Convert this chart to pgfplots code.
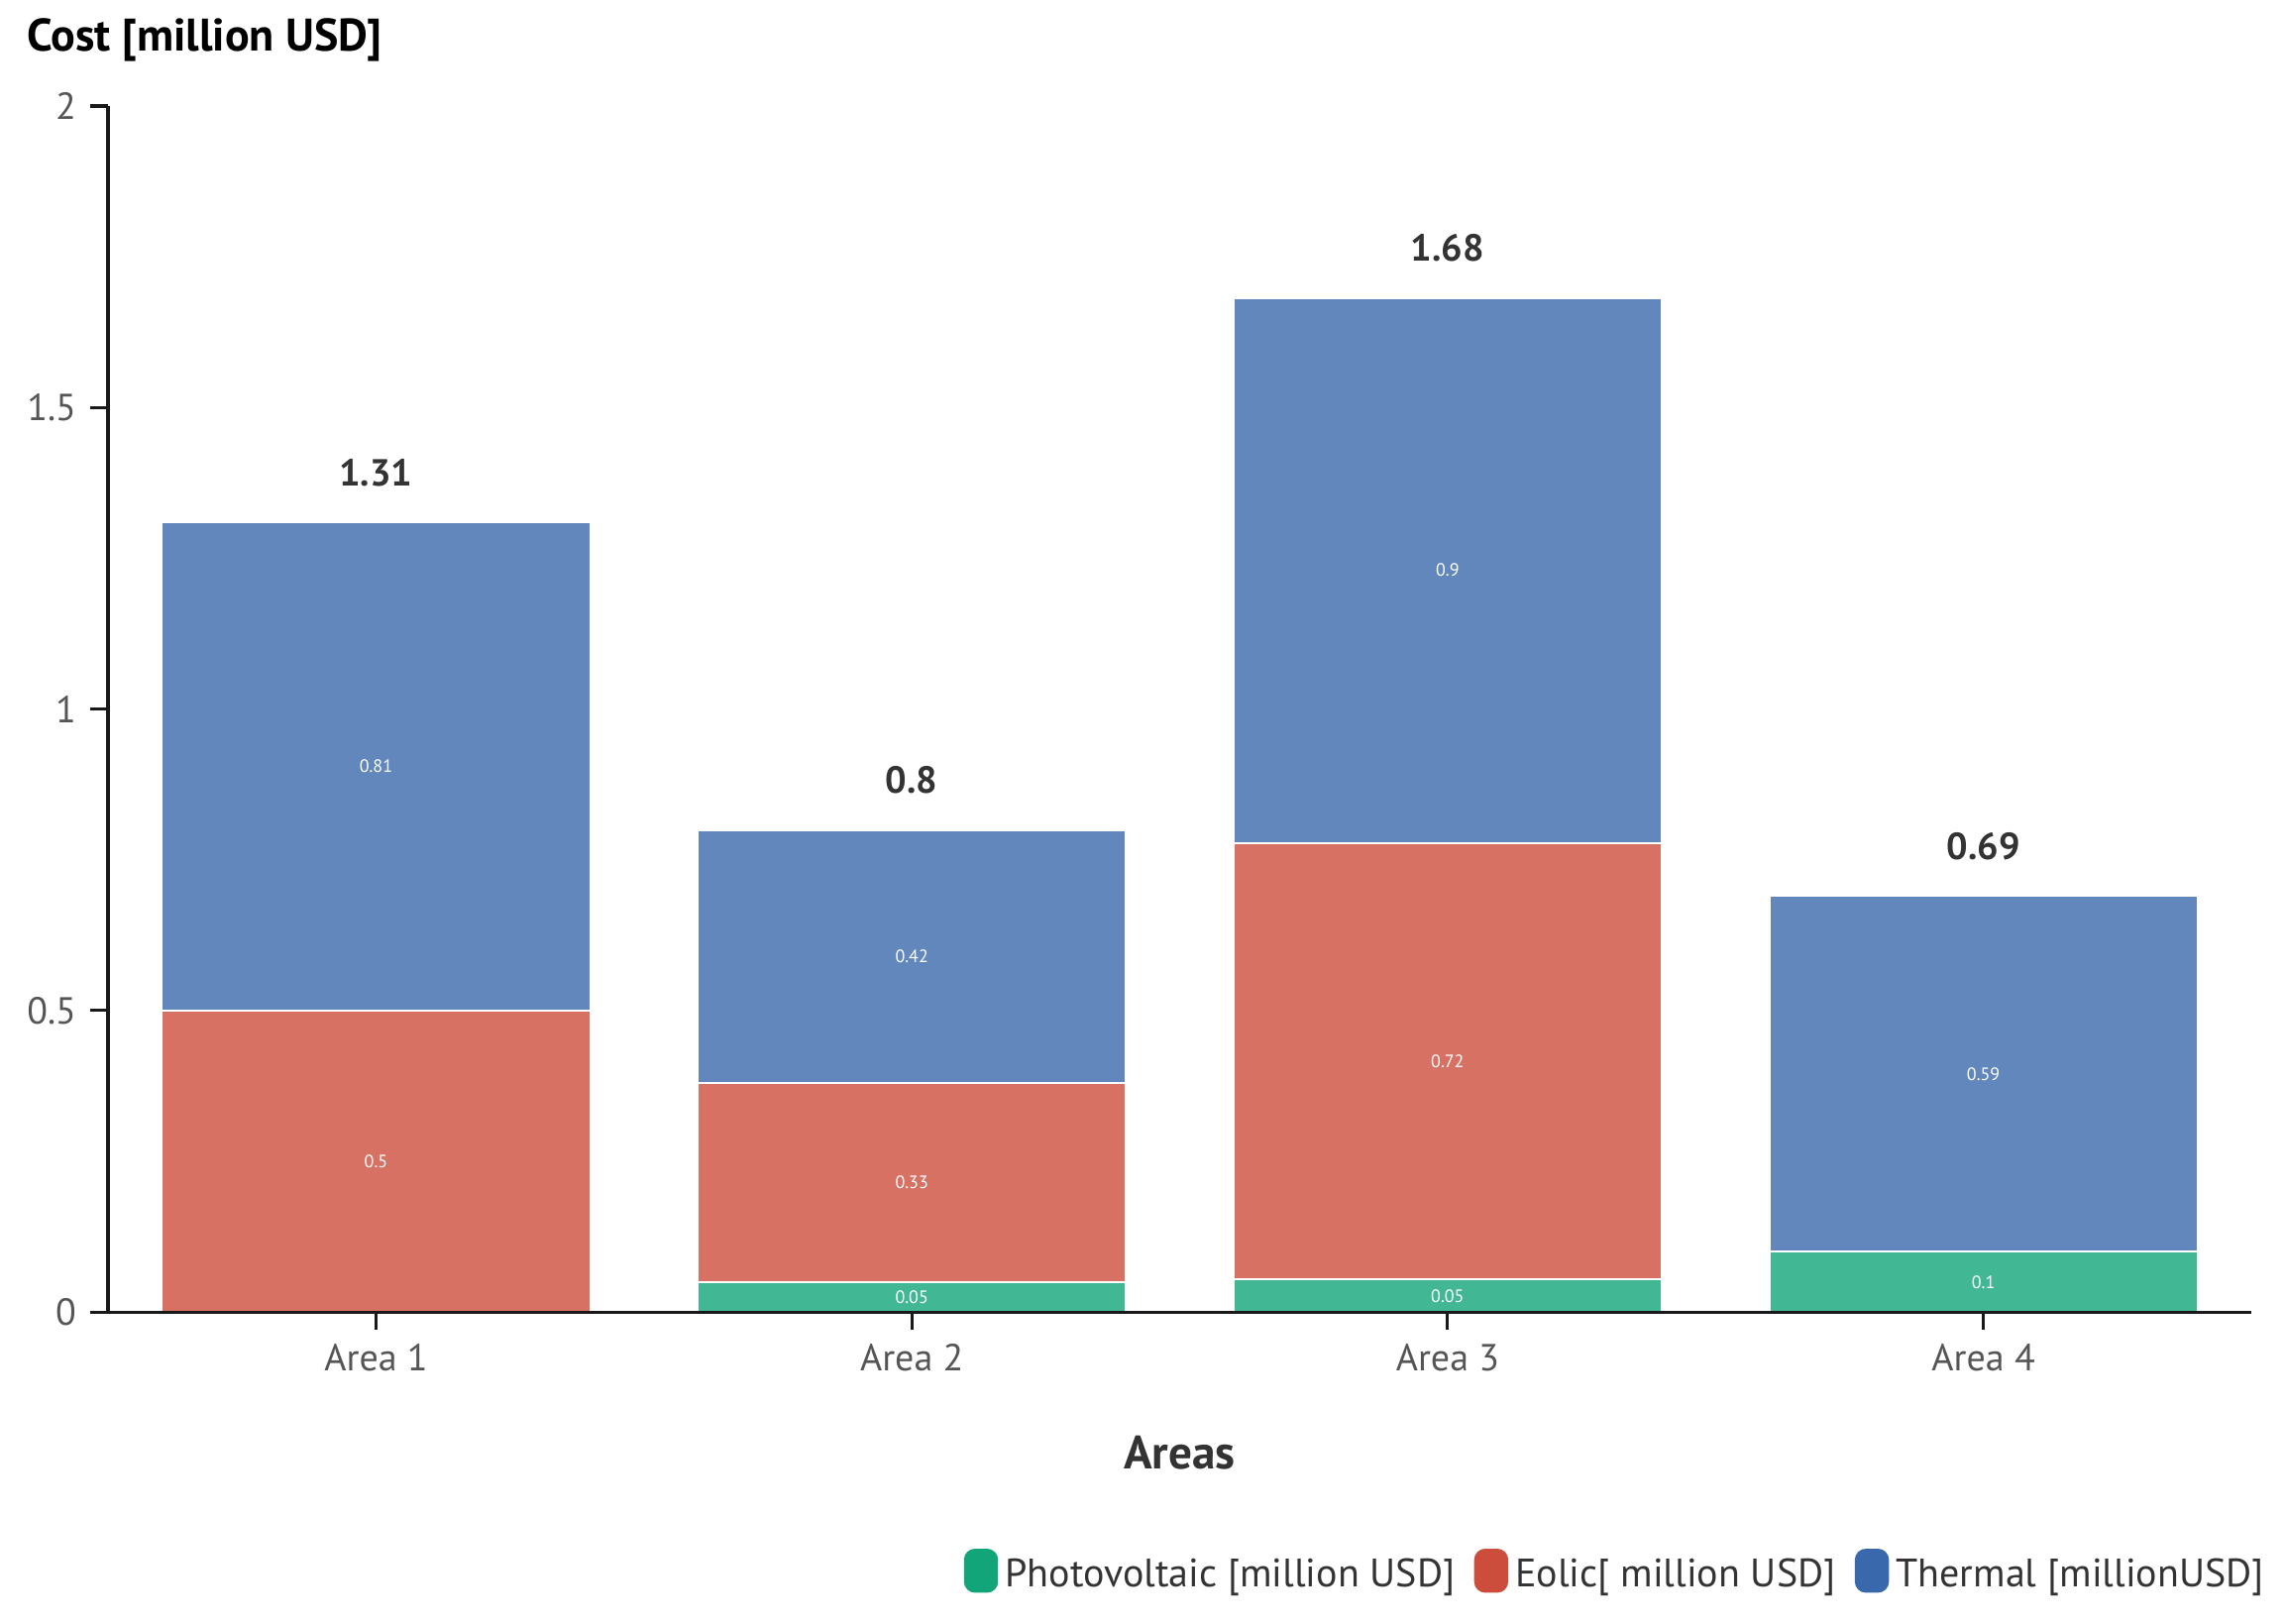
\documentclass[border=0pt]{standalone}
\usepackage{pgfplots}
\pgfplotsset{compat=1.18}
\usepackage{pgfplotstable}
\usepackage{fontspec}
\setmainfont{PT Sans}
\definecolor{pvc}{HTML}{11A579}
\definecolor{eoc}{HTML}{CD4D3C}
\definecolor{thc}{HTML}{3969AC}
\definecolor{lab}{HTML}{555555}
\definecolor{dark}{HTML}{333333}

\pgfplotstableread[col sep=comma]{
x,pv,pvl,eo,eol,th,thl,tot,totl
0,0,,0.5,0.5,0.81,0.81,1.31,1.31
1,0.05,0.05,0.33,0.33,0.42,0.42,0.80,0.8
2,0.054,0.05,0.724,0.72,0.904,0.9,1.682,1.68
3,0.1,0.1,0,,0.59,0.59,0.69,0.69
}\data

\pgfplotsset{base/.style={width=540.25pt,height=304pt,scale only axis,
  xmin=-0.5,xmax=3.5,ymin=0,ymax=2,enlargelimits=false,at={(0,0)},anchor=south west,clip=false}}

\begin{document}
\begin{tikzpicture}
\begin{axis}[base,
  ybar stacked, bar width=0.8,
  axis on top,
  axis lines=left,
  axis line style={-, black!90, line width=0.8pt},
  tick align=outside, major tick length=4.5pt,
  tick style={black!90, line width=0.8pt},
  xtick={0,1,2,3}, xticklabels={Area 1,Area 2,Area 3,Area 4},
  ytick={0,0.5,1,1.5,2},
  tick label style={font=\fontsize{9.5}{11}\selectfont, text=lab},
  /pgf/number format/assume math mode=true,
  xlabel={Areas},
  xlabel style={font=\bfseries\fontsize{11.8}{14}\selectfont, text=dark, at={(axis description cs:0.5,0)}, anchor=center, yshift=-35.5pt},
  legend style={draw=none, fill=none, at={(axis description cs:1.0097,-0.2175)}, anchor=east,
    font=\fontsize{10}{12}\selectfont, text=dark, inner sep=0pt,
    nodes={inner sep=1.8pt},
    /tikz/every even column/.append style={column sep=3pt}},
  legend columns=3,
]
\addplot[fill=pvc!80!white, draw=white, line width=0.6pt,
  legend image code/.code={\fill[pvc, rounded corners=2.5pt] (0pt,-4pt) rectangle (8pt,6.5pt);}]
  table[x=x,y=pv]{\data};
\addlegendentry{Photovoltaic [million USD]}
\addplot[fill=eoc!80!white, draw=white, line width=0.6pt,
  legend image code/.code={\fill[eoc, rounded corners=2.5pt] (0pt,-4pt) rectangle (8pt,6.5pt);}]
  table[x=x,y=eo]{\data};
\addlegendentry{Eolic[ million USD]}
\addplot[fill=thc!80!white, draw=white, line width=0.6pt,
  legend image code/.code={\fill[thc, rounded corners=2.5pt] (0pt,-4pt) rectangle (8pt,6.5pt);}]
  table[x=x,y=th]{\data};
\addlegendentry{Thermal [millionUSD]}
\node[anchor=west, inner sep=0pt, font=\bfseries\fontsize{11.5}{13}\selectfont, xshift=-20.6pt, yshift=16.75pt] at (rel axis cs:0,1) {Cost [million USD]};
\coordinate (O) at (rel axis cs:0,0);
\end{axis}
\begin{axis}[base, hide axis,
  nodes near coords, point meta=explicit symbolic,
  every node near coord/.append style={anchor=center, text=white, font=\fontsize{4.5}{5}\selectfont, inner sep=0pt}]
\addplot[draw=none] table[x=x, y expr=\thisrow{pv}/2, meta=pvl]{\data};
\addplot[draw=none] table[x=x, y expr=\thisrow{pv}+\thisrow{eo}/2, meta=eol]{\data};
\addplot[draw=none] table[x=x, y expr=\thisrow{pv}+\thisrow{eo}+\thisrow{th}/2, meta=thl]{\data};
\addplot[draw=none, every node near coord/.append style={text=dark, font=\bfseries\fontsize{9.5}{11}\selectfont, yshift=12.5pt}]
  table[x=x, y=tot, meta=totl]{\data};
\end{axis}
\pgfresetboundingbox
\useasboundingbox ([shift={(-27.25pt,-78.5pt)}]O) rectangle ([shift={(548.75pt,330.75pt)}]O);
\end{tikzpicture}
\end{document}
